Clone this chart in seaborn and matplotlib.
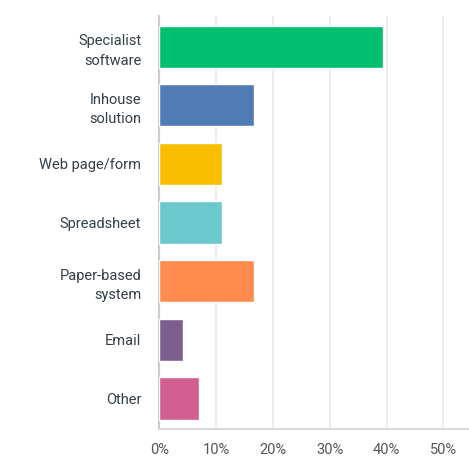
import matplotlib
matplotlib.use('Agg')
import matplotlib.pyplot as plt
import seaborn as sns
import pandas as pd

# Data
categories = ['Specialist\nsoftware', 'Inhouse\nsolution', 'Web page/form', 'Spreadsheet',
              'Paper-based\nsystem', 'Email', 'Other']
percent = [39.3, 16.7, 11.1, 11.1, 16.7, 4.2, 6.9]
colors = ['#00bf6f', '#507cb6', '#f9be00', '#6bc8cd', '#ff8b4f', '#7d5e8f', '#d25f90']
xticks = [0, 10, 20, 30, 40, 50]

df = pd.DataFrame({'category': categories, 'percent': percent})

sns.set_style('white')
plt.rcParams['font.family'] = ['Roboto', 'DejaVu Sans']

fig = plt.figure(figsize=(4.69, 4.66), dpi=100)
ax = fig.add_axes([0.3397, 0.0794, 0.6603, 0.886])

sns.barplot(data=df, x='percent', y='category', hue='category', palette=colors,
            legend=False, width=0.72, saturation=1, ax=ax, zorder=3)

ax.set_xlim(0, 54.5)
ax.set_ylim(6.52, -0.52)
ax.set_xticks(xticks)
ax.set_xticklabels([f'{t}%' for t in xticks])
ax.grid(axis='x', color='#ececec', linewidth=1.5, zorder=0)
ax.set_xlabel('')
ax.set_ylabel('')
ax.tick_params(axis='both', length=0, labelsize=10.5, colors='#333e48')
ax.tick_params(axis='x', pad=10, colors='#555555')
for lbl in ax.get_yticklabels():
    lbl.set_horizontalalignment('right')
    lbl.set_linespacing(1.5)
ax.tick_params(axis='y', pad=13)

for s in ['top', 'right']:
    ax.spines[s].set_visible(False)
ax.spines['left'].set_color('#cccccc')
ax.spines['left'].set_linewidth(1.5)
ax.spines['bottom'].set_color('#d9d9d9')
ax.spines['bottom'].set_linewidth(1.5)

fig.savefig('out.png', dpi=100)
